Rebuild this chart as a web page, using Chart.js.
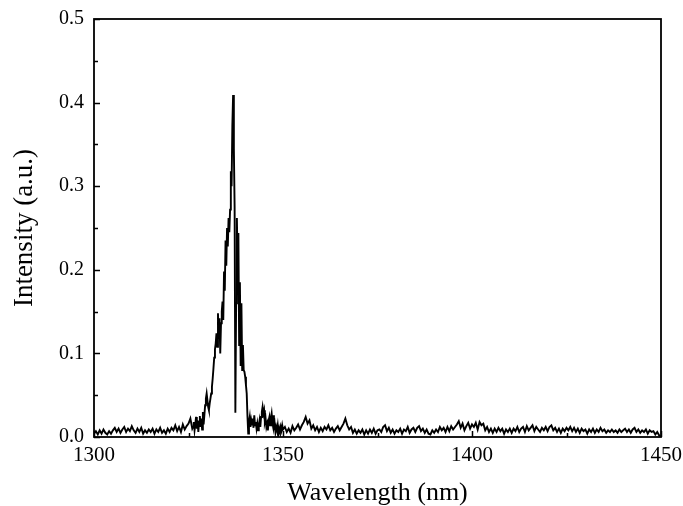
<!DOCTYPE html>
<html>
<head>
<meta charset="utf-8">
<title>Spectrum</title>
<script src="https://cdn.jsdelivr.net/npm/chart.js@4.4.0/dist/chart.umd.min.js"></script>
<style>
  html, body { margin: 0; padding: 0; background: #fff; overflow: hidden; }
  #wrap { width: 683px; height: 506px; }
</style>
</head>
<body>
<div id="wrap"><canvas id="spectrum"></canvas></div>
<script>
// ---- data (intensity in a.u.) ----
// 1300.0 .. 1326.0 nm, every 0.5 nm
const leftStart = 1300.0;
const leftStep = 0.5;
const leftIntensity = [
    0.004, 0.007, 0.003, 0.008, 0.004, 0.009, 0.005, 0.003, 0.007, 0.004,
    0.008, 0.011, 0.006, 0.010, 0.005, 0.009, 0.012, 0.006, 0.010, 0.007,
    0.013, 0.008, 0.005, 0.010, 0.006, 0.011, 0.004, 0.008, 0.005, 0.009,
    0.006, 0.010, 0.004, 0.009, 0.006, 0.011, 0.005, 0.008, 0.004, 0.010,
    0.006, 0.011, 0.008, 0.014, 0.007, 0.012, 0.006, 0.015, 0.009, 0.013,
    0.016, 0.022, 0.010
];

// 1326.2 .. 1350.0 nm, every 0.2 nm (peak region)
const peakStart = 1326.2;
const peakStep = 0.2;
const peakIntensity = [
    0.012, 0.018, 0.008, 0.015, 0.024, 0.010, 0.020, 0.006, 0.018, 0.025,
    0.012, 0.022, 0.009, 0.030, 0.015, 0.026, 0.038, 0.046, 0.052, 0.044,
    0.036, 0.032, 0.040, 0.046, 0.052, 0.060, 0.070, 0.082, 0.095, 0.105,
    0.112, 0.124, 0.108, 0.148, 0.118, 0.142, 0.100, 0.136, 0.150, 0.162,
    0.140, 0.198, 0.175, 0.235, 0.205, 0.250, 0.228, 0.262, 0.245, 0.272,
    0.318, 0.300, 0.372, 0.409, 0.345, 0.275, 0.029, 0.160, 0.262, 0.205,
    0.244, 0.110, 0.185, 0.085, 0.160, 0.080, 0.110, 0.080, 0.078, 0.072,
    0.062, 0.052, 0.025, 0.004, 0.018, 0.024, 0.012, 0.020, 0.015, 0.022,
    0.011, 0.026, 0.014, 0.018, 0.010, 0.016, 0.008, 0.014, 0.020, 0.012,
    0.024, 0.030, 0.036, 0.028, 0.032, 0.018, 0.022, 0.012, 0.016, 0.008,
    0.020, 0.024, 0.014, 0.022, 0.028, 0.018, 0.026, 0.012, 0.016, 0.006,
    0.012, 0.008, 0.014, 0.004, 0.010, 0.006, 0.012, 0.008, 0.014, 0.009
];

// 1350.5 .. 1450.0 nm, every 0.5 nm
const rightStart = 1350.5;
const rightStep = 0.5;
const rightIntensity = [
    0.012, 0.006, 0.010, 0.005, 0.013, 0.008, 0.011, 0.015, 0.009, 0.014,
    0.018, 0.024, 0.016, 0.020, 0.010, 0.014, 0.008, 0.012, 0.006, 0.011,
    0.007, 0.012, 0.009, 0.014, 0.008, 0.011, 0.006, 0.010, 0.013, 0.008,
    0.012, 0.016, 0.022, 0.014, 0.009, 0.012, 0.005, 0.009, 0.004, 0.008,
    0.005, 0.009, 0.003, 0.008, 0.004, 0.009, 0.005, 0.010, 0.004, 0.008,
    0.009, 0.006, 0.012, 0.014, 0.007, 0.011, 0.005, 0.009, 0.004, 0.008,
    0.006, 0.010, 0.004, 0.009, 0.007, 0.012, 0.005, 0.009, 0.011, 0.006,
    0.011, 0.013, 0.007, 0.010, 0.005, 0.009, 0.004, 0.003, 0.008, 0.005,
    0.009, 0.006, 0.012, 0.008, 0.011, 0.006, 0.012, 0.007, 0.013, 0.009,
    0.012, 0.015, 0.019, 0.011, 0.016, 0.008, 0.013, 0.017, 0.010, 0.015,
    0.012, 0.017, 0.009, 0.018, 0.014, 0.016, 0.008, 0.012, 0.006, 0.010,
    0.005, 0.010, 0.006, 0.011, 0.007, 0.010, 0.004, 0.009, 0.006, 0.010,
    0.005, 0.010, 0.007, 0.012, 0.006, 0.010, 0.012, 0.006, 0.013, 0.008,
    0.011, 0.014, 0.007, 0.012, 0.009, 0.006, 0.011, 0.008, 0.012, 0.007,
    0.012, 0.014, 0.008, 0.011, 0.006, 0.010, 0.005, 0.010, 0.007, 0.011,
    0.008, 0.012, 0.007, 0.011, 0.006, 0.010, 0.005, 0.010, 0.007, 0.009,
    0.004, 0.009, 0.006, 0.010, 0.005, 0.009, 0.006, 0.011, 0.007, 0.009,
    0.005, 0.008, 0.006, 0.009, 0.006, 0.008, 0.005, 0.009, 0.006, 0.008,
    0.010, 0.006, 0.009, 0.005, 0.009, 0.011, 0.006, 0.009, 0.005, 0.008,
    0.006, 0.009, 0.004, 0.008, 0.006, 0.007, 0.003, 0.006, 0.002, 0.000
];

// ---- axis ticks ----
const xMajor = [1300, 1350, 1400, 1450];
const xMinor = [1325, 1375, 1425];
const yMajor = [0.0, 0.1, 0.2, 0.3, 0.4, 0.5];
const yMinor = [0.05, 0.15, 0.25, 0.35, 0.45];

const FONT = "'Liberation Serif', 'Times New Roman', serif";

// assemble {x, y} points from the sampled segments
function segment(start, step, values) {
    return values.map((v, i) => ({ x: +(start + i * step).toFixed(1), y: v }));
}
const points = [
    ...segment(leftStart, leftStep, leftIntensity),
    ...segment(peakStart, peakStep, peakIntensity),
    ...segment(rightStart, rightStep, rightIntensity)
];

// frame + inward ticks (Origin style)
const frameTicks = {
    id: "frameTicks",
    afterDraw(chart) {
        const { ctx, chartArea: a, scales: { x, y } } = chart;
        ctx.save();
        ctx.strokeStyle = "#000";
        ctx.lineWidth = 1.8;
        ctx.strokeRect(a.left, a.top, a.right - a.left, a.bottom - a.top);
        ctx.lineWidth = 1.5;
        ctx.beginPath();
        yMajor.forEach(v => {
            const py = Math.round(y.getPixelForValue(v)) + 0.5;
            ctx.moveTo(a.left, py); ctx.lineTo(a.left + 6, py);
        });
        yMinor.forEach(v => {
            const py = Math.round(y.getPixelForValue(v)) + 0.5;
            ctx.moveTo(a.left, py); ctx.lineTo(a.left + 4, py);
        });
        xMajor.forEach(v => {
            const px = Math.round(x.getPixelForValue(v)) + 0.5;
            ctx.moveTo(px, a.bottom); ctx.lineTo(px, a.bottom - 6);
        });
        xMinor.forEach(v => {
            const px = Math.round(x.getPixelForValue(v)) + 0.5;
            ctx.moveTo(px, a.bottom); ctx.lineTo(px, a.bottom - 4);
        });
        ctx.stroke();
        ctx.restore();
    }
};

new Chart(document.getElementById("spectrum").getContext("2d"), {
    type: "line",
    data: {
        datasets: [{
            data: points,
            borderColor: "#000",
            borderWidth: 1.9,
            pointRadius: 0,
            tension: 0,
            fill: false
        }]
    },
    options: {
        responsive: true,
        maintainAspectRatio: false,
        animation: false,
        layout: { padding: { left: 0, right: 22, top: 19, bottom: 0 } },
        plugins: { legend: { display: false }, tooltip: { enabled: false } },
        scales: {
            x: {
                type: "linear",
                min: 1300,
                max: 1450,
                afterBuildTicks: s => { s.ticks = xMajor.map(v => ({ value: v })); },
                afterFit: s => { s.height = 69; s.paddingLeft = 0; s.paddingRight = 0; },
                grid: { display: false, drawTicks: false },
                border: { display: false },
                ticks: {
                    color: "#000",
                    font: { family: FONT, size: 21 },
                    padding: 6,
                    maxRotation: 0,
                    callback: v => String(v)
                },
                title: {
                    display: true,
                    text: "Wavelength (nm)",
                    color: "#000",
                    font: { family: FONT, size: 26, lineHeight: 1.0 },
                    padding: { top: 0, bottom: 0 }
                }
            },
            y: {
                min: 0,
                max: 0.5,
                afterBuildTicks: s => { s.ticks = yMajor.map(v => ({ value: v })); },
                afterFit: s => { s.width = 94; s.paddingTop = 0; s.paddingBottom = 0; },
                grid: { display: false, drawTicks: false },
                border: { display: false },
                ticks: {
                    color: "#000",
                    font: { family: FONT, size: 20 },
                    padding: 10,
                    callback: v => v.toFixed(1)
                },
                title: {
                    display: true,
                    text: "Intensity (a.u.)",
                    color: "#000",
                    font: { family: FONT, size: 27, lineHeight: 1.0 },
                    padding: { top: 11, bottom: 11 }
                }
            }
        }
    },
    plugins: [frameTicks]
});
</script>
</body>
</html>
